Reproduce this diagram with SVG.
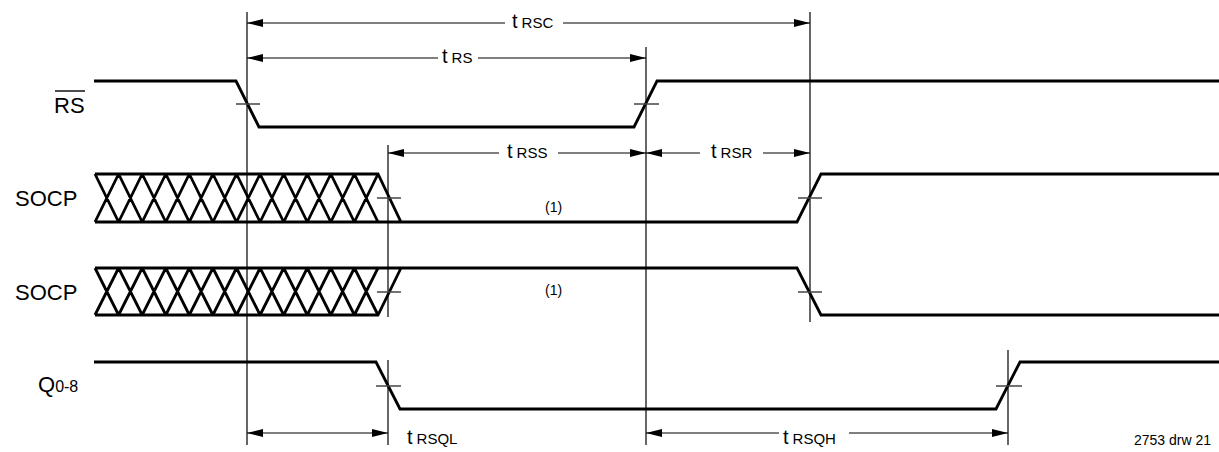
<svg xmlns="http://www.w3.org/2000/svg" width="1219" height="452" viewBox="0 0 1219 452">
<style>
.wave{fill:none;stroke:#000;stroke-width:2.8;stroke-linejoin:miter}
.hatch{fill:none;stroke:#000;stroke-width:2.8}
.ref{stroke:#000;stroke-width:1.2}
.tick{stroke:#444;stroke-width:1.5}
.dim{stroke:#000;stroke-width:1.2;marker-end:url(#ah)}
.lbl{font-family:"Liberation Sans",Arial,sans-serif;font-size:22px;fill:#000}
.t{font-family:"Liberation Sans",Arial,sans-serif;font-size:20px;fill:#000}
.sub{font-size:15px}
.note{font-family:"Liberation Sans",Arial,sans-serif;font-size:14px;fill:#000}
</style>
<defs>
<marker id="ah" markerUnits="userSpaceOnUse" markerWidth="16" markerHeight="8" refX="16" refY="4" orient="auto-start-reverse">
<path d="M0,0 L16,4 L0,8 z" fill="#000"/>
</marker>
</defs>
<rect width="1219" height="452" fill="#fff"/>

<g id="labels">
<text class="lbl" x="54" y="113">RS</text>
<line x1="55" y1="91" x2="85" y2="91" stroke="#000" stroke-width="1.4"/>
<text class="lbl" x="15" y="206">SOCP</text>
<text class="lbl" x="15" y="300">SOCP</text>
<text class="lbl" x="38" y="392">Q<tspan font-size="16">0-8</tspan></text>
</g>

<g id="rs">
<path class="wave" d="M94,81 H236 L259,127 H634 L657,81 H1219"/>
</g>

<g id="socp1">
<path class="wave" d="M95,174 H378 L401,222 H797 L821,174 H1219 M95,222 H401"/>
<path class="hatch" d="M95,174 L118.6,222 M95,222 L118.6,174 M118.6,174 L142.2,222 M118.6,222 L142.2,174 M142.2,174 L165.8,222 M142.2,222 L165.8,174 M165.8,174 L189.3,222 M165.8,222 L189.3,174 M189.3,174 L212.9,222 M189.3,222 L212.9,174 M212.9,174 L236.5,222 M212.9,222 L236.5,174 M236.5,174 L260.1,222 M236.5,222 L260.1,174 M260.1,174 L283.7,222 M260.1,222 L283.7,174 M283.7,174 L307.3,222 M283.7,222 L307.3,174 M307.3,174 L330.8,222 M307.3,222 L330.8,174 M330.8,174 L354.4,222 M330.8,222 L354.4,174 M354.4,174 L378,222 M354.4,222 L378,174"/>
<text class="note" x="545" y="212">(1)</text>
</g>

<g id="socp2">
<path class="wave" d="M95,268 H797 L821,315 H1219 M95,315 H378 L401,268"/>
<path class="hatch" d="M95,268 L118.6,315 M95,315 L118.6,268 M118.6,268 L142.2,315 M118.6,315 L142.2,268 M142.2,268 L165.8,315 M142.2,315 L165.8,268 M165.8,268 L189.3,315 M165.8,315 L189.3,268 M189.3,268 L212.9,315 M189.3,315 L212.9,268 M212.9,268 L236.5,315 M212.9,315 L236.5,268 M236.5,268 L260.1,315 M236.5,315 L260.1,268 M260.1,268 L283.7,315 M260.1,315 L283.7,268 M283.7,268 L307.3,315 M283.7,315 L307.3,268 M307.3,268 L330.8,315 M307.3,315 L330.8,268 M330.8,268 L354.4,315 M330.8,315 L354.4,268 M354.4,268 L378,315 M354.4,315 L378,268"/>
<text class="note" x="545" y="295">(1)</text>
</g>

<g id="q">
<path class="wave" d="M94,362 H376 L400,409 H996 L1020,362 H1219"/>
</g>

<g id="refs">
<line class="ref" x1="247" y1="12" x2="247" y2="445"/>
<line class="ref" x1="646" y1="47" x2="646" y2="445"/>
<line class="ref" x1="810" y1="12" x2="810" y2="322"/>
<line class="ref" x1="388" y1="145" x2="388" y2="317"/>
<line class="ref" x1="388" y1="360" x2="388" y2="445"/>
<line class="ref" x1="1008" y1="350" x2="1008" y2="445"/>
</g>

<g id="ticks">
<line class="tick" x1="236" y1="104" x2="260" y2="104"/>
<line class="tick" x1="634" y1="104" x2="659" y2="104"/>
<line class="tick" x1="377" y1="198" x2="401" y2="198"/>
<line class="tick" x1="798" y1="198" x2="822" y2="198"/>
<line class="tick" x1="377" y1="292" x2="401" y2="292"/>
<line class="tick" x1="798" y1="292" x2="822" y2="292"/>
<line class="tick" x1="376" y1="386" x2="401" y2="386"/>
<line class="tick" x1="996" y1="386" x2="1022" y2="386"/>
</g>

<g id="connectors">
<line class="dim" x1="505" y1="23" x2="247" y2="23"/>
<line class="dim" x1="563" y1="23" x2="810" y2="23"/>
<line class="dim" x1="438" y1="58" x2="247" y2="58"/>
<line class="dim" x1="478" y1="58" x2="646" y2="58"/>
<line class="dim" x1="499" y1="153" x2="388" y2="153"/>
<line class="dim" x1="558" y1="153" x2="646" y2="153"/>
<line class="dim" x1="700" y1="153" x2="646" y2="153"/>
<line class="dim" x1="763" y1="153" x2="810" y2="153"/>
<line class="dim" x1="247" y1="433" x2="388" y2="433" marker-start="url(#ah)"/>
<line class="dim" x1="779" y1="433" x2="646" y2="433"/>
<line class="dim" x1="849" y1="433" x2="1008" y2="433"/>
</g>

<g id="dimlabels">
<text class="t" x="512" y="28">t<tspan class="sub" dx="4">RSC</tspan></text>
<text class="t" x="442" y="63">t<tspan class="sub" dx="4">RS</tspan></text>
<text class="t" x="507" y="158">t<tspan class="sub" dx="4">RSS</tspan></text>
<text class="t" x="711" y="158">t<tspan class="sub" dx="4">RSR</tspan></text>
<text class="t" x="407" y="444">t<tspan class="sub" dx="4">RSQL</tspan></text>
<text class="t" x="783" y="444">t<tspan class="sub" dx="4">RSQH</tspan></text>
<text class="note" x="1211" y="445" text-anchor="end" font-size="12">2753 drw 21</text>
</g>
</svg>
